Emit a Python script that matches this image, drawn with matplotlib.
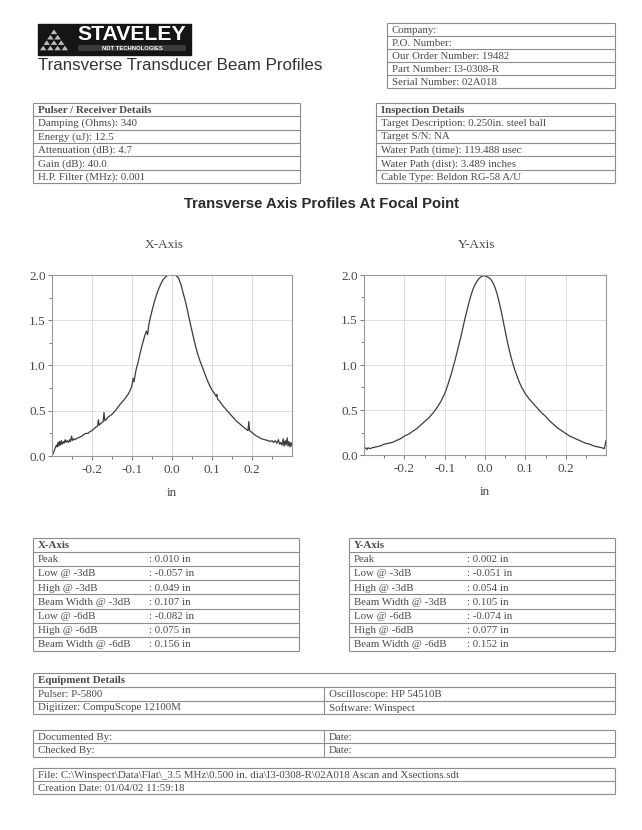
import matplotlib
matplotlib.use("Agg")
import matplotlib.pyplot as plt
from matplotlib.patches import Rectangle, Polygon
import numpy as np

# ---------------- data ----------------
x_pos = [-0.298, -0.295, -0.292, -0.289, -0.287, -0.285, -0.283, -0.281, -0.279, -0.277,
         -0.275, -0.272, -0.270, -0.267, -0.265, -0.262, -0.259, -0.256, -0.254, -0.251,
         -0.249, -0.246, -0.243, -0.240, -0.235, -0.230, -0.225, -0.220, -0.215, -0.210,
         -0.205, -0.200, -0.195, -0.190, -0.186, -0.184, -0.182, -0.178, -0.175, -0.172,
         -0.170, -0.168, -0.165, -0.160, -0.150, -0.140, -0.130, -0.120, -0.115, -0.110,
         -0.105, -0.100, -0.097, -0.095, -0.090, -0.084, -0.080, -0.076, -0.072, -0.068,
         -0.064, -0.061, -0.058, -0.053, -0.048, -0.043, -0.038, -0.033, -0.028, -0.022,
         -0.016, -0.010, 0.000, 0.008, 0.016, 0.022, 0.028, 0.034, 0.040, 0.046,
         0.052, 0.058, 0.064, 0.070, 0.076, 0.082, 0.088, 0.094, 0.100, 0.106,
         0.110, 0.112, 0.114, 0.120, 0.128, 0.136, 0.144, 0.152, 0.160, 0.168,
         0.176, 0.184, 0.190, 0.192, 0.194, 0.200, 0.208, 0.216, 0.224, 0.232,
         0.240, 0.246, 0.250, 0.254, 0.258, 0.262, 0.266, 0.269, 0.272, 0.275,
         0.278, 0.280, 0.283, 0.285, 0.288, 0.290, 0.292, 0.295, 0.297, 0.300]
x_amp = [0.02, 0.05, 0.09, 0.12, 0.10, 0.15, 0.11, 0.16, 0.12, 0.17,
         0.13, 0.16, 0.14, 0.18, 0.15, 0.17, 0.15, 0.18, 0.16, 0.22,
         0.17, 0.19, 0.18, 0.19, 0.20, 0.21, 0.22, 0.24, 0.25, 0.25,
         0.27, 0.28, 0.30, 0.32, 0.33, 0.40, 0.34, 0.36, 0.37, 0.38,
         0.48, 0.39, 0.40, 0.43, 0.46, 0.51, 0.57, 0.62, 0.65, 0.68,
         0.72, 0.78, 0.86, 0.82, 0.95, 1.05, 1.13, 1.20, 1.27, 1.33,
         1.38, 1.34, 1.45, 1.55, 1.64, 1.72, 1.79, 1.85, 1.90, 1.95,
         1.98, 2.00, 2.00, 2.00, 1.97, 1.90, 1.80, 1.70, 1.58, 1.46,
         1.34, 1.23, 1.13, 1.05, 0.98, 0.91, 0.84, 0.78, 0.73, 0.69,
         0.66, 0.68, 0.63, 0.60, 0.55, 0.51, 0.47, 0.43, 0.39, 0.36,
         0.33, 0.30, 0.28, 0.38, 0.28, 0.26, 0.23, 0.21, 0.19, 0.18,
         0.17, 0.16, 0.17, 0.15, 0.17, 0.14, 0.18, 0.13, 0.15, 0.12,
         0.19, 0.11, 0.17, 0.12, 0.20, 0.11, 0.16, 0.10, 0.15, 0.11]

y_pos = [-0.300, -0.296, -0.293, -0.290, -0.285, -0.280, -0.270, -0.260, -0.250, -0.240,
         -0.230, -0.220, -0.210, -0.200, -0.195, -0.190, -0.180, -0.170, -0.160, -0.150,
         -0.140, -0.130, -0.120, -0.110, -0.100, -0.095, -0.090, -0.085, -0.080, -0.075,
         -0.070, -0.065, -0.060, -0.055, -0.050, -0.045, -0.040, -0.035, -0.030, -0.025,
         -0.020, -0.015, -0.010, -0.005, 0.000, 0.005, 0.010, 0.015, 0.020, 0.025,
         0.030, 0.035, 0.040, 0.045, 0.050, 0.055, 0.060, 0.065, 0.070, 0.075,
         0.080, 0.085, 0.090, 0.095, 0.100, 0.110, 0.120, 0.130, 0.140, 0.150,
         0.160, 0.170, 0.180, 0.190, 0.200, 0.210, 0.220, 0.230, 0.240, 0.250,
         0.260, 0.270, 0.280, 0.290, 0.296, 0.298, 0.300]
y_amp = [0.07, 0.08, 0.06, 0.08, 0.07, 0.08, 0.09, 0.10, 0.12, 0.13,
         0.14, 0.16, 0.18, 0.21, 0.22, 0.23, 0.26, 0.29, 0.33, 0.37,
         0.41, 0.46, 0.52, 0.59, 0.68, 0.74, 0.81, 0.88, 0.96, 1.04,
         1.13, 1.22, 1.31, 1.41, 1.51, 1.60, 1.69, 1.77, 1.84, 1.89,
         1.93, 1.96, 1.98, 1.99, 1.99, 1.98, 1.97, 1.95, 1.91, 1.86,
         1.79, 1.70, 1.60, 1.49, 1.38, 1.27, 1.17, 1.08, 1.00, 0.93,
         0.87, 0.81, 0.76, 0.72, 0.68, 0.62, 0.57, 0.52, 0.47, 0.43,
         0.38, 0.34, 0.30, 0.27, 0.24, 0.21, 0.19, 0.17, 0.15, 0.13,
         0.12, 0.10, 0.09, 0.08, 0.07, 0.12, 0.16]

y_ticks = [0.0, 0.5, 1.0, 1.5, 2.0]
y_tick_labels = ["0.0", "0.5", "1.0", "1.5", "2.0"]
x_ticks = [-0.2, -0.1, 0.0, 0.1, 0.2]
x_tick_labels = ["-0.2", "-0.1", "0.0", "0.1", "0.2"]

header_rows = ["Company:", "P.O. Number:", "Our Order Number: 19482",
               "Part Number: I3-0308-R", "Serial Number: 02A018"]
pulser_rows = ["Pulser / Receiver Details", "Damping (Ohms): 340", "Energy (uJ): 12.5",
               "Attenuation (dB): 4.7", "Gain (dB): 40.0", "H.P. Filter (MHz): 0.001"]
inspection_rows = ["Inspection Details", "Target Description: 0.250in. steel ball",
                   "Target S/N: NA", "Water Path (time): 119.488 usec",
                   "Water Path (dist): 3.489 inches", "Cable Type: Beldon RG-58 A/U"]
stat_labels = ["Peak", "Low @ -3dB", "High @ -3dB", "Beam Width @ -3dB",
               "Low @ -6dB", "High @ -6dB", "Beam Width @ -6dB"]
x_stats = [": 0.010 in", ": -0.057 in", ": 0.049 in", ": 0.107 in",
           ": -0.082 in", ": 0.075 in", ": 0.156 in"]
y_stats = [": 0.002 in", ": -0.051 in", ": 0.054 in", ": 0.105 in",
           ": -0.074 in", ": 0.077 in", ": 0.152 in"]
equip_left = ["Pulser: P-5800", "Digitizer: CompuScope 12100M"]
equip_right = ["Oscilloscope: HP 54510B", "Software: Winspect"]
sign_left = ["Documented By:", "Checked By:"]
sign_right = ["Date:", "Date:"]
file_rows = [r"File: C:\Winspect\Data\Flat\_3.5 MHz\0.500 in. dia\I3-0308-R\02A018 Ascan and Xsections.sdt",
             "Creation Date: 01/04/02 11:59:18"]

# ---------------- styling ----------------
W, H = 642, 830
TXT = "#4a4a4a"
LINE = "#8c8c8c"
SERIF = ["Liberation Serif", "DejaVu Serif"]
SANS = ["Liberation Sans", "DejaVu Sans"]
FS = 7.8

fig = plt.figure(figsize=(W / 100, H / 100), dpi=100)
fig.patch.set_facecolor("white")
page = fig.add_axes([0, 0, 1, 1])
page.set_xlim(0, W)
page.set_ylim(H, 0)
page.axis("off")


def hline(x0, x1, y, lw=0.8):
    page.plot([x0, x1], [y, y], color=LINE, lw=lw, solid_capstyle="butt")


def vline(x, y0, y1, lw=0.8):
    page.plot([x, x], [y0, y1], color=LINE, lw=lw, solid_capstyle="butt")


def txt(x, y, s, bold=False, size=FS, family=SERIF, color=TXT, ha="left"):
    page.text(x, y, s, fontsize=size, family=family, color=color, ha=ha, va="center",
              fontweight="bold" if bold else "normal")


def table(x0, x1, y0, rh, rows, bold_first=False, col2=None, col2_x=None):
    n = len(rows)
    for i in range(n + 1):
        hline(x0, x1, y0 + i * rh)
    vline(x0, y0, y0 + n * rh)
    vline(x1, y0, y0 + n * rh)
    for i, r in enumerate(rows):
        yc = y0 + (i + 0.55) * rh
        txt(x0 + 5, yc, r, bold=(bold_first and i == 0))
    if col2 is not None:
        off = n - len(col2)
        for j, r in enumerate(col2):
            txt(col2_x, y0 + (j + off + 0.55) * rh, r)


# ---------------- logo ----------------
page.add_patch(Rectangle((38, 24), 153, 31, facecolor="#151515", edgecolor="#151515"))
tri_rows = 4
for r in range(tri_rows):
    for c in range(r + 1):
        cx = 54 - r * 3.6 + c * 7.2
        cy = 29.5 + r * 5.4
        page.add_patch(Polygon([[cx, cy], [cx - 3.2, cy + 4.6], [cx + 3.2, cy + 4.6]],
                               closed=True, facecolor="#bdbdbd", edgecolor="none"))
page.text(132, 34.5, "STAVELEY", fontsize=15.3, family=SANS, fontweight="bold",
          color="white", ha="center", va="center")
page.add_patch(Rectangle((78, 45.5), 108, 6, facecolor="#3a3a3a", edgecolor="none"))
page.text(132, 48.6, "NDT TECHNOLOGIES", fontsize=4.2, family=SANS, fontweight="bold",
          color="white", ha="center", va="center")
page.text(38, 66, "Transverse Transducer Beam Profiles", fontsize=12.2, family=SANS,
          color="#333333", ha="left", va="center")

# ---------------- tables ----------------
table(387, 615, 23.5, 13.0, header_rows)
table(33, 300, 102.7, 13.45, pulser_rows, bold_first=True)
table(376, 615, 102.7, 13.45, inspection_rows, bold_first=True)

page.text(322, 204, "Transverse Axis Profiles At Focal Point", fontsize=10.7, family=SANS,
          fontweight="bold", color="#2a2a2a", ha="center", va="center")

# stats tables
table(33, 299, 538, 14.1, ["X-Axis"] + stat_labels, bold_first=True,
      col2=x_stats, col2_x=149)
table(349, 615, 538, 14.1, ["Y-Axis"] + stat_labels, bold_first=True,
      col2=y_stats, col2_x=467)

# equipment
table(33, 615, 673.3, 13.6, ["Equipment Details"] + equip_left, bold_first=True,
      col2=equip_right, col2_x=329)
vline(324, 673.3 + 13.6, 673.3 + 3 * 13.6)
table(33, 615, 730, 13.3, sign_left, col2=sign_right, col2_x=329)
vline(324, 730, 730 + 2 * 13.3)
table(33, 615, 768.3, 12.9, file_rows)

# ---------------- plots ----------------
def profile(rect, xs, ys, title, title_x):
    ax = fig.add_axes(rect)
    ax.plot(xs, ys, color="#3c3c3c", lw=0.9)
    ax.set_xlim(-0.3, 0.3)
    ax.set_ylim(0, 2.0)
    ax.set_xticks(x_ticks)
    ax.set_xticklabels(x_tick_labels)
    ax.set_yticks(y_ticks)
    ax.set_yticklabels(y_tick_labels)
    ax.set_xticks(np.arange(-0.25, 0.3, 0.05), minor=True)
    ax.set_yticks(np.arange(0.25, 2.0, 0.25), minor=True)
    ax.grid(True, which="major", color="#dcdcdc", lw=0.7)
    ax.set_axisbelow(True)
    for s in ax.spines.values():
        s.set_color("#9a9a9a")
        s.set_linewidth(0.8)
    ax.tick_params(which="both", direction="out", color="#777777", labelcolor=TXT,
                   labelsize=9.5, length=3, width=0.7)
    ax.tick_params(axis="y", pad=1.5)
    ax.tick_params(axis="x", pad=3)
    ax.tick_params(which="minor", length=2.5)
    for lab in ax.get_xticklabels() + ax.get_yticklabels():
        lab.set_family(SERIF)
    ax.set_xlabel("in", family=SERIF, fontsize=9.5, color=TXT, labelpad=8)
    page.text(title_x, 245, title, fontsize=9.5, family=SERIF, color=TXT,
              ha="center", va="center")
    return ax


def frac(x0, x1, ytop, ybot):
    return [x0 / W, 1 - ybot / H, (x1 - x0) / W, (ybot - ytop) / H]


profile(frac(52, 292, 275, 456), x_pos, x_amp, "X-Axis", 164)
profile(frac(364, 606, 275, 455), y_pos, y_amp, "Y-Axis", 477)

fig.savefig("out.png", dpi=100, facecolor="white")
